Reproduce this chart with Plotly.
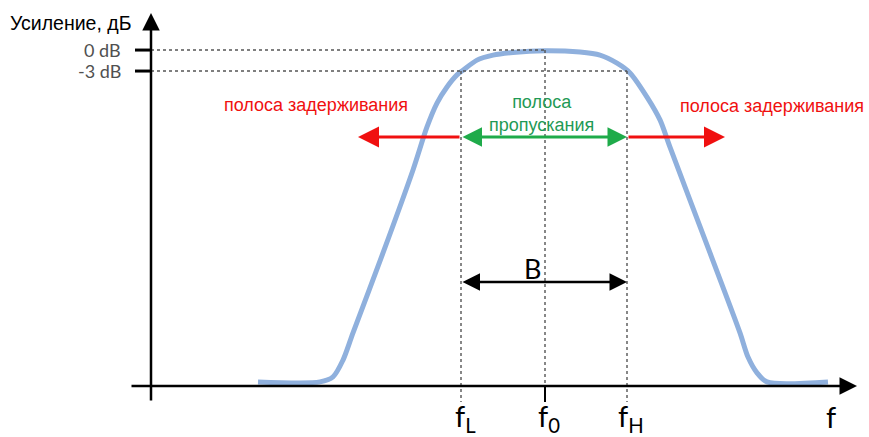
import plotly.graph_objects as go

# Band-pass filter response: frequency in arbitrary units, gain normalised so 0 dB = 1
freq = [10.7, 16.9, 18.2, 19.2, 20.2, 23.2, 26.2, 27.6, 28.6, 29.6, 30.6, 31.2, 32.6,
        34.2, 36.2, 39.4, 42.9, 44.9, 46.6, 47.9, 49.6, 50.9, 51.9, 55.9, 58.9, 59.7,
        60.6, 61.6, 67.7]
gain = [0.012, 0.012, 0.027, 0.077, 0.158, 0.396, 0.643, 0.771, 0.842, 0.890, 0.926,
        0.940, 0.970, 0.985, 0.993, 0.998, 0.994, 0.985, 0.961, 0.932, 0.860, 0.792,
        0.711, 0.396, 0.158, 0.086, 0.039, 0.012, 0.012]

# Characteristic frequencies and levels
f_low, f_center, f_high = 31.0, 39.4, 47.6
level_0db, level_3db = 1.0, 0.9375
level_labels = ["0 dB", "-3 dB"]
freq_labels = ["f<sub>L</sub>", "f<sub>0</sub>", "f<sub>H</sub>"]
stop_left_end, stop_right_end = 20.7, 57.4
band_arrow_level, bw_arrow_level = 0.741, 0.3095

# Axes extents
x_axis_start, x_axis_end = -2.1, 70.6
y_axis_bottom, y_axis_top = -0.048, 1.11
tick_len = 1.6

fig = go.Figure()

fig.add_trace(go.Scatter(
    x=freq, y=gain, mode="lines",
    line=dict(color="rgb(143,176,221)", width=5, shape="spline", smoothing=0.8),
    hoverinfo="skip", showlegend=False))

dot = dict(color="#555555", width=1.4, dash="dot")
shapes = [
    dict(type="line", x0=0, x1=f_center, y0=level_0db, y1=level_0db, line=dot),
    dict(type="line", x0=0, x1=f_high, y0=level_3db, y1=level_3db, line=dot),
    dict(type="line", x0=f_low, x1=f_low, y0=level_3db, y1=y_axis_bottom, line=dot),
    dict(type="line", x0=f_center, x1=f_center, y0=level_0db, y1=0, line=dot),
    dict(type="line", x0=f_high, x1=f_high, y0=level_3db, y1=y_axis_bottom, line=dot),
    dict(type="line", x0=f_center, x1=f_center, y0=0, y1=y_axis_bottom,
         line=dict(color="black", width=2)),
]
for lv in (level_0db, level_3db):
    shapes.append(dict(type="line", x0=-tick_len, x1=0, y0=lv, y1=lv,
                       line=dict(color="black", width=3)))
fig.update_layout(shapes=shapes)

annotations = []


def arrow(x, y, ax, ay, color, width, size, side="end"):
    annotations.append(dict(
        x=x, y=y, ax=ax, ay=ay, xref="x", yref="y", axref="x", ayref="y",
        text="", showarrow=True, arrowhead=2, arrowsize=size, arrowwidth=width,
        arrowcolor=color, arrowside=side, startarrowhead=2, startarrowsize=size))


# Axes with arrowheads
arrow(x_axis_end, 0, x_axis_start, 0, "black", 2.5, 1.4)
arrow(0, y_axis_top, 0, y_axis_bottom, "black", 2.5, 1.4)

# Stop-band and pass-band arrows
arrow(stop_left_end, band_arrow_level, f_low, band_arrow_level, "#f01010", 3, 1.4)
arrow(stop_right_end, band_arrow_level, f_high, band_arrow_level, "#f01010", 3, 1.4)
arrow(f_high, band_arrow_level, f_low, band_arrow_level, "#1fab4a", 3, 1.3, "end+start")

# Bandwidth arrow
arrow(f_high, bw_arrow_level, f_low, bw_arrow_level, "black", 2.5, 1.4, "end+start")


def label(x, y, text, size, color="black", family="Arial", xanchor="center"):
    annotations.append(dict(x=x, y=y, xref="x", yref="y", text=text, showarrow=False,
                            xanchor=xanchor, yanchor="middle",
                            font=dict(size=size, color=color, family=family)))


label(-14.3, 1.080, "Усиление, дБ", 19.5, xanchor="left")
for lv, txt in zip((level_0db, level_3db), level_labels):
    label(-2.8, lv, txt, 18, color="#505050", family="Lato", xanchor="right")

label(16.5, 0.836, "полоса задерживания", 18, color="#f01010")
label(62.1, 0.833, "полоса задерживания", 18, color="#f01010")
label(39.0, 0.8125, "полоса<br>пропускания", 18, color="#1f9a55")
label(38.1, 0.351, "B", 27, family="Lato")

for fx, txt in zip((f_low, f_center, f_high), freq_labels):
    label(fx + 0.4, -0.095, txt, 29, family="Lato")
label(68.0, -0.092, "f", 29, family="Lato")

fig.update_layout(annotations=annotations)

fig.update_layout(
    width=869, height=437,
    margin=dict(l=0, r=0, t=0, b=0),
    paper_bgcolor="white", plot_bgcolor="white",
    xaxis=dict(range=[-15.1, 71.8], visible=False, fixedrange=True),
    yaxis=dict(range=[-0.152, 1.149], visible=False, fixedrange=True),
)

fig.write_html("out.html")
